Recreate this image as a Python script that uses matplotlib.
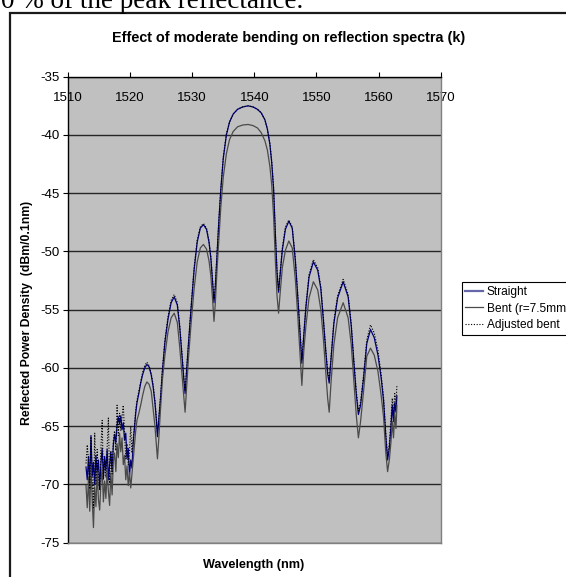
import matplotlib
matplotlib.use("Agg")
import matplotlib.pyplot as plt
from matplotlib.axes import Axes
from matplotlib.patches import Rectangle

W, H = 566, 577

# wavelength samples (nm): noisy floor first, then the grating lobes
wavelength = [
    1512.9, 1513.1, 1513.3, 1513.5, 1513.7, 1513.9, 1514.1, 1514.3, 1514.5, 1514.7,
    1514.9, 1515.1, 1515.3, 1515.5, 1515.7, 1515.9, 1516.1, 1516.3, 1516.5, 1516.7,
    1516.9, 1517.1, 1517.3, 1517.5, 1517.7, 1517.9, 1518.1, 1518.3, 1518.5, 1518.7,
    1518.9, 1519.1, 1519.3, 1519.5, 1519.7, 1519.9, 1520.1, 1520.3, 1520.5, 1520.7,
    1520.9,
    1521.1, 1521.4, 1521.7, 1522.0, 1522.35, 1522.7, 1523.05, 1523.4, 1523.7, 1524.0,
    1524.2, 1524.4, 1524.6, 1524.9, 1525.2, 1525.6, 1526.1, 1526.6, 1527.1, 1527.6,
    1528.0, 1528.4, 1528.65, 1528.85, 1529.1, 1529.4, 1529.8, 1530.3, 1530.8, 1531.3,
    1531.8, 1532.3, 1532.7, 1533.0, 1533.3, 1533.5, 1533.7, 1534.0, 1534.3, 1534.6,
    1535.0, 1535.5, 1536.0, 1536.6, 1537.3, 1538.1, 1539.0, 1539.8, 1540.5, 1541.1,
    1541.7, 1542.1, 1542.5, 1542.8, 1543.1, 1543.4, 1543.65, 1543.9, 1544.15, 1544.5,
    1545.0, 1545.55, 1546.1, 1546.6, 1547.0, 1547.35, 1547.65, 1547.95, 1548.3, 1548.8,
    1549.5, 1550.2, 1550.7, 1551.1, 1551.5, 1551.8, 1552.05, 1552.35, 1552.8, 1553.4,
    1554.3, 1555.1, 1555.6, 1556.0, 1556.4, 1556.75, 1557.1, 1557.6, 1558.1, 1558.7,
    1559.3, 1559.9, 1560.4, 1560.8, 1561.15, 1561.45, 1561.75, 1562.0, 1562.2, 1562.4,
    1562.6, 1562.8, 1562.95,
]

straight = [
    -68.5, -69.6, -67.6, -69.9, -65.8, -69.3, -68.1, -70.0, -67.5, -69.0,
    -67.9, -70.4, -68.2, -66.9, -69.4, -67.6, -68.8, -67.0, -69.6, -68.3,
    -67.2, -68.9, -66.6, -65.7, -66.4, -64.9, -64.2, -64.8, -64.1, -65.3,
    -64.7, -66.2, -65.6, -67.8, -66.9, -69.2, -67.9, -68.6, -66.4, -65.2,
    -63.9,
    -63.0, -62.2, -61.3, -60.6, -60.0, -59.7, -59.9, -60.6, -61.6, -63.0,
    -64.3, -65.9, -64.6, -62.6, -60.3, -57.8, -55.8, -54.4, -53.9, -54.6,
    -56.6, -59.3, -61.0, -62.2, -60.2, -57.9, -55.0, -51.6, -49.2, -48.0,
    -47.7, -48.1, -49.2, -50.6, -52.8, -54.4, -53.2, -50.2, -47.3, -44.7,
    -42.0, -40.0, -38.9, -38.2, -37.8, -37.6, -37.5, -37.6, -37.8, -38.1,
    -38.7, -39.5, -40.8, -42.4, -44.7, -48.8, -51.8, -53.5, -52.0, -49.9,
    -48.1, -47.4, -48.0, -50.8, -54.0, -57.0, -59.6, -57.3, -54.8, -52.2,
    -50.9, -51.6, -53.2, -55.8, -58.6, -60.5, -61.3, -59.2, -56.2, -54.0,
    -52.6, -53.9, -56.4, -59.4, -62.2, -64.0, -63.2, -60.8, -57.9, -56.7,
    -57.4, -58.9, -60.8, -62.8, -65.8, -67.9, -66.8, -65.0, -63.2, -64.6,
    -63.0, -63.8, -62.4,
]

bent = [
    -70.1, -72.0, -69.4, -72.3, -68.5, -71.4, -73.7, -70.2, -71.9, -68.9,
    -71.3, -72.2, -69.8, -68.6, -71.5, -69.7, -71.2, -68.8, -70.6, -71.8,
    -69.0, -70.9, -68.0, -67.3, -68.9, -66.5, -67.7, -65.6, -67.2, -66.0,
    -68.3, -67.5, -69.6, -68.4, -70.1, -69.0, -70.3, -69.1, -67.9, -66.8,
    -65.4,
    -64.5, -63.9, -63.2, -62.4, -61.6, -61.2, -61.4, -62.0, -63.5, -65.0,
    -66.4, -67.8, -66.2, -63.5, -61.0, -58.9, -56.9, -55.7, -55.3, -56.1,
    -58.3, -60.9, -62.6, -63.8, -61.6, -59.1, -56.3, -53.2, -50.9, -49.7,
    -49.4, -49.8, -50.8, -52.1, -54.3, -56.0, -54.6, -51.5, -48.8, -46.2,
    -43.6, -41.6, -40.4, -39.7, -39.3, -39.15, -39.1, -39.2, -39.4, -39.8,
    -40.5, -41.3, -42.7, -44.3, -47.0, -51.0, -53.8, -55.3, -53.6, -51.4,
    -49.9, -49.1, -49.7, -52.4, -55.6, -58.7, -61.5, -58.6, -56.4, -54.0,
    -52.6, -53.3, -55.0, -57.4, -60.4, -62.6, -63.8, -61.2, -58.0, -55.7,
    -54.4, -55.7, -58.0, -61.0, -64.0, -66.0, -64.6, -61.9, -59.0, -58.3,
    -58.9, -60.3, -62.3, -64.2, -67.2, -68.9, -67.8, -66.3, -64.6, -66.0,
    -63.9, -65.2, -63.2,
]

adjusted = [
    -68.2, -66.6, -68.0, -70.4, -65.9, -69.5, -72.0, -65.6, -69.9, -67.0,
    -69.4, -70.5, -66.9, -64.5, -69.6, -67.9, -69.4, -66.8, -64.3, -69.9,
    -67.2, -69.1, -66.2, -65.4, -67.1, -63.2, -65.8, -63.9, -65.4, -64.2,
    -63.2, -65.6, -67.8, -66.5, -68.3, -67.2, -65.0, -67.3, -66.0, -65.0,
    -63.6,
    -62.8, -62.0, -61.2, -60.4, -59.8, -59.5, -59.8, -60.5, -61.4, -62.8,
    -64.1, -65.6, -64.3, -62.4, -60.1, -57.6, -55.6, -54.2, -53.7, -54.4,
    -56.4, -59.1, -60.8, -61.9, -60.0, -57.7, -54.8, -51.4, -49.0, -47.9,
    -47.6, -48.0, -49.1, -50.5, -52.6, -54.1, -53.0, -50.0, -47.1, -44.6,
    -41.9, -39.9, -38.9, -38.2, -37.8, -37.6, -37.5, -37.6, -37.8, -38.1,
    -38.7, -39.5, -40.7, -42.3, -44.5, -48.6, -51.6, -53.3, -51.8, -49.7,
    -47.9, -47.3, -47.9, -50.6, -53.8, -56.8, -59.3, -57.1, -54.6, -52.0,
    -50.7, -51.4, -53.0, -55.6, -58.4, -60.2, -61.0, -59.0, -56.0, -53.8,
    -52.4, -53.7, -56.2, -59.2, -61.9, -63.7, -62.9, -60.5, -57.6, -56.3,
    -57.0, -58.5, -60.5, -62.5, -65.5, -67.6, -66.4, -64.4, -62.6, -63.9,
    -62.2, -63.1, -61.5,
]

series_labels = ["Straight", "Bent (r=7.5mm)", "Adjusted bent"]
x_ticks = [1510, 1520, 1530, 1540, 1550, 1560, 1570]
y_ticks = [-75, -70, -65, -60, -55, -50, -45, -40, -35]


def fx(px):
    return px / W


def fy(py):
    return 1 - py / H


def axes_style(ax: Axes):
    ax.set_facecolor('#C0C0C0')
    ax.set_xlim(1510, 1570)
    ax.set_ylim(-75, -35)
    ax.set_xticks(x_ticks)
    ax.set_yticks(y_ticks)
    ax.set_yticklabels([str(v) for v in y_ticks])

    # Excel style: category axis crosses at the top, labels sit inside the plot
    ax.xaxis.set_ticks_position('top')
    ax.tick_params(axis='x', direction='out', length=3.6, width=0.8,
                   labeltop=True, labelbottom=False, pad=-23.3, labelsize=9.5)
    ax.tick_params(axis='y', direction='out', length=3.6, width=0.8,
                   pad=2.7, labelsize=9.5)

    ax.yaxis.grid(True, color='#262626', linewidth=1.0)
    ax.set_axisbelow(True)

    ax.spines['left'].set_color('black')
    ax.spines['top'].set_color('black')
    for side in ('right', 'bottom'):
        ax.spines[side].set_color('#808080')
    for sp in ax.spines.values():
        sp.set_linewidth(1.0)
    return ax


plt.rcParams['font.family'] = ['Liberation Sans', 'DejaVu Sans']

fig = plt.figure(figsize=(W / 100, H / 100), dpi=100)

# chart area border (runs off the right and bottom edges)
fig.add_artist(Rectangle((fx(9.5), -0.2), 1.5, fy(13) + 0.2,
                         transform=fig.transFigure, fill=False,
                         edgecolor='#1a1a1a', linewidth=1.6))

fig.text(fx(1), fy(8.5), "0 % of the peak reflectance.",
         family=['Liberation Serif', 'DejaVu Serif'], fontsize=19.5,
         ha='left', va='baseline')

ax = fig.add_axes([fx(68), fy(542.7), (440.7 - 68) / W, (542.7 - 76.7) / H])

ax.plot(wavelength, straight, color='#000080', linewidth=0.9, label=series_labels[0])
ax.plot(wavelength, bent, color='#4a4a4a', linewidth=0.9, label=series_labels[1])
ax.plot(wavelength, adjusted, color='black', linewidth=0.8,
        linestyle=(0, (1, 1.5)), label=series_labels[2])

axes_style(ax)

fig.text(fx(289), fy(38), "Effect of moderate bending on reflection spectra (k)",
         fontsize=10.4, fontweight='bold', ha='center', va='center')
fig.text(fx(254), fy(565), "Wavelength (nm)",
         fontsize=9.1, fontweight='bold', ha='center', va='center')
fig.text(fx(27), fy(313), "Reflected Power Density  (dBm/0.1nm)",
         fontsize=8.8, fontweight='bold', ha='center', va='center', rotation=90)

leg = ax.legend(loc='upper left', bbox_to_anchor=(fx(461.7), fy(282.3)),
                bbox_transform=fig.transFigure, fontsize=8.6, frameon=True,
                fancybox=False, framealpha=1, edgecolor='black',
                borderaxespad=0, borderpad=0.3, handlelength=1.5,
                handletextpad=0.3, labelspacing=0.4)
leg.get_frame().set_linewidth(0.8)
leg.legend_handles[0].set_color('#6666aa')
leg.legend_handles[0].set_linewidth(1.6)

fig.savefig("out.png", dpi=100)
